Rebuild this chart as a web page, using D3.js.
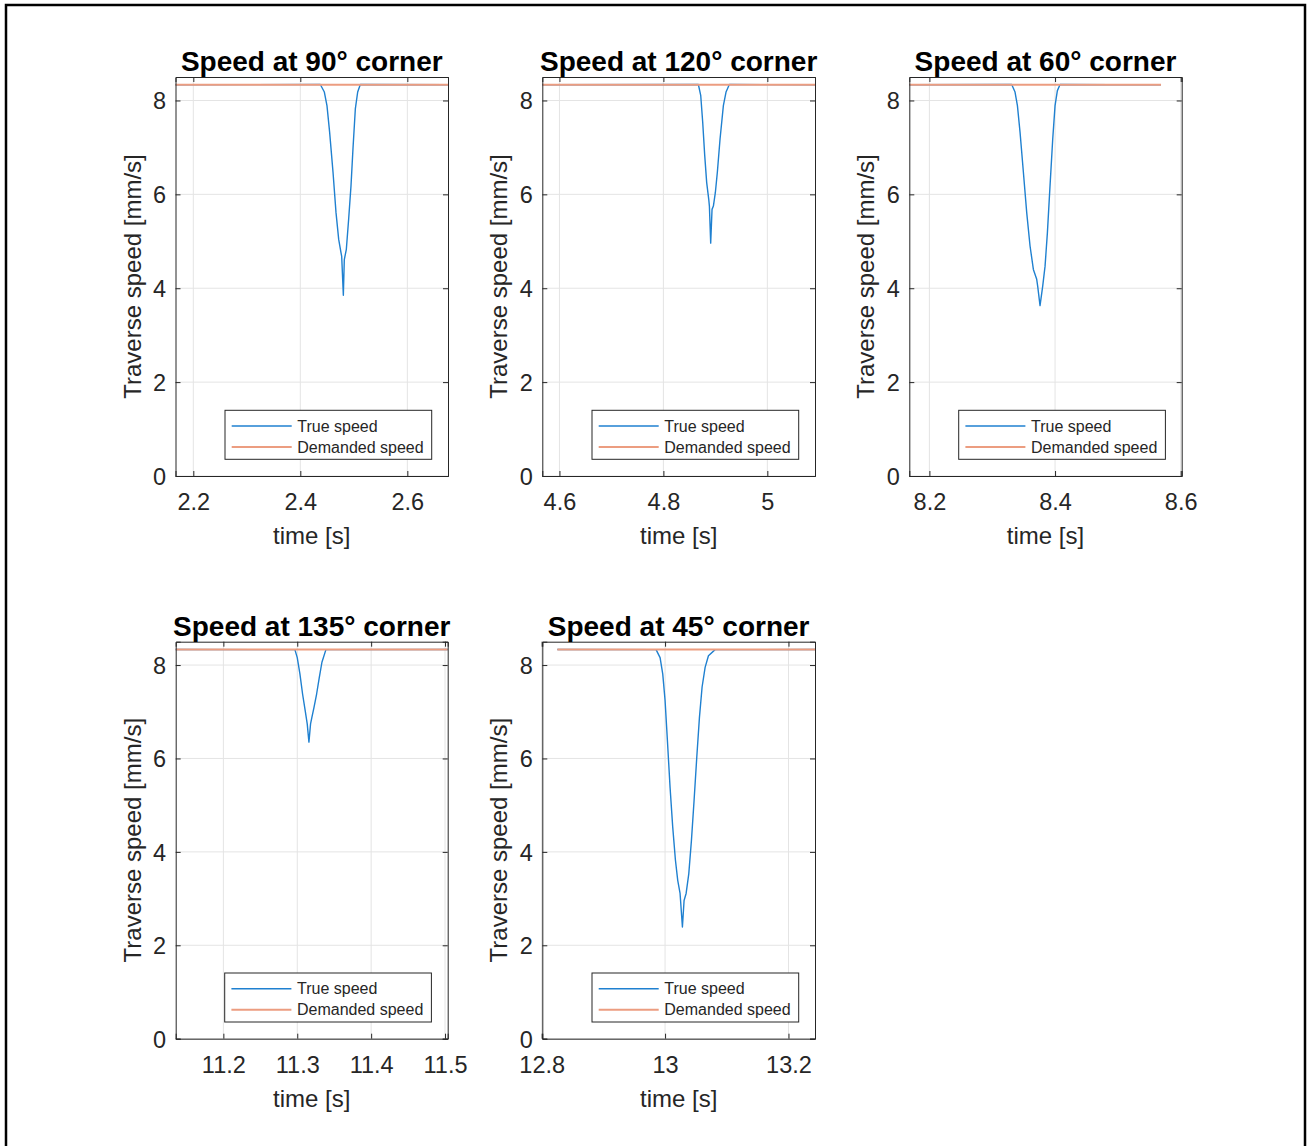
<!DOCTYPE html>
<html>
<head>
<meta charset="utf-8">
<script src="https://cdn.jsdelivr.net/npm/d3@7"></script>
<style>
  html, body { margin: 0; padding: 0; background: #fff; }
  svg { display: block; font-family: "Liberation Sans", Arial, sans-serif; }
</style>
</head>
<body>
<svg id="chart" width="1311" height="1146"></svg>
<script>
// ---------- data ----------
const titles = ["Speed at 90° corner", "Speed at 120° corner", "Speed at 60° corner",
                "Speed at 135° corner", "Speed at 45° corner"];
const xLimits = [[2.1667, 2.676], [4.567, 5.0917], [8.168, 8.6016], [11.1355, 11.5036], [12.801, 13.243]];
const xTickValues = [[2.2, 2.4, 2.6], [4.6, 4.8, 5], [8.2, 8.4, 8.6], [11.2, 11.3, 11.4, 11.5], [12.8, 13, 13.2]];
const yLimits = [0, 8.5];
const yTickValues = [0, 2, 4, 6, 8];
const demandedSpeed = 8.333;
const demandedTimeRange = [[2.15, 2.70], [4.55, 5.11], [8.15, 8.5687], [11.12, 11.52], [12.8254, 13.26]];

const trueTime90  = [2.15, 2.4374, 2.4449, 2.4498, 2.4548, 2.4611, 2.4667, 2.4717, 2.4760, 2.4773, 2.4804,
                     2.4822, 2.4860, 2.4903, 2.4947, 2.4984, 2.5028, 2.5072, 2.5121, 2.70];
const trueSpeed90 = [8.333, 8.34, 8.18, 7.89, 7.32, 6.47, 5.61, 5.04, 4.76, 4.68, 3.85,
                     4.61, 4.83, 5.47, 6.18, 6.97, 7.82, 8.18, 8.34, 8.333];

const trueTime120  = [4.55, 4.8673, 4.8718, 4.8756, 4.8795, 4.8833, 4.8872, 4.8885, 4.8910,
                      4.8936, 4.8962, 4.9000, 4.9038, 4.9090, 4.9154, 4.9205, 4.9269, 5.11];
const trueSpeed120 = [8.333, 8.34, 8.11, 7.54, 6.83, 6.25, 5.90, 5.75, 4.96,
                      5.68, 5.75, 6.04, 6.47, 7.18, 7.89, 8.18, 8.34, 8.333];

const trueTime60  = [8.15, 8.3310, 8.3363, 8.3401, 8.3443, 8.3496, 8.3549, 8.3602, 8.3655, 8.3708, 8.3724, 8.3761,
                     8.3803, 8.3841, 8.3878, 8.3920, 8.3963, 8.4000, 8.4037, 8.4080, 8.5687];
const trueSpeed60 = [8.333, 8.34, 8.18, 7.89, 7.32, 6.47, 5.61, 4.90, 4.40, 4.19, 4.04, 3.63,
                     4.04, 4.47, 5.18, 6.18, 7.18, 7.89, 8.21, 8.34, 8.333];

const trueTime135  = [11.12, 11.2968, 11.3000, 11.3036, 11.3072, 11.3108, 11.3135, 11.3158,
                      11.3180, 11.3198, 11.3226, 11.3262, 11.3298, 11.3334, 11.3388, 11.52];
const trueSpeed135 = [8.333, 8.33, 8.16, 7.81, 7.38, 7.02, 6.74, 6.35,
                      6.74, 6.88, 7.09, 7.38, 7.73, 8.06, 8.33, 8.333];

const trueTime45  = [12.8254, 12.9854, 12.9919, 12.9962, 13.0000, 13.0038, 13.0081, 13.0124, 13.0168, 13.0205, 13.0243, 13.0281,
                     13.0308, 13.0341, 13.0384, 13.0427, 13.0470, 13.0514, 13.0557, 13.0600, 13.0649, 13.0703, 13.0811, 13.26];
const trueSpeed45 = [8.333, 8.33, 8.16, 7.81, 7.24, 6.38, 5.38, 4.53, 3.82, 3.39, 3.11, 2.39,
                     2.96, 3.11, 3.53, 4.24, 5.10, 6.03, 6.88, 7.53, 7.95, 8.20, 8.33, 8.333];

const trueTimes  = [trueTime90, trueTime120, trueTime60, trueTime135, trueTime45];
const trueSpeeds = [trueSpeed90, trueSpeed120, trueSpeed60, trueSpeed135, trueSpeed45];
const legendLabels = ["True speed", "Demanded speed"];
const xLabel = "time [s]";
const yLabel = "Traverse speed [mm/s]";

// ---------- layout / style ----------
const layout = [
  {left: 175.5, top: 77,    width: 272.5, height: 399},
  {left: 542.3, top: 77,    width: 272.7, height: 399},
  {left: 909.3, top: 77,    width: 272.4, height: 399},
  {left: 175.7, top: 641.7, width: 272.0, height: 397},
  {left: 542.3, top: 641.7, width: 272.7, height: 397}
];
const blue = "#1f80d0";
const orange = "#ec9d80";
const axisColor = "#262626";
const gridColor = "#e4e4e4";

const svg = d3.select("#chart");

// outer frame
svg.append("rect").attr("x", 6).attr("y", 5).attr("width", 1299).attr("height", 1160)
  .attr("fill", "none").attr("stroke", "#000").attr("stroke-width", 2.5);

const fmt = v => String(+v.toFixed(4));

layout.forEach((L, i) => {
  const g = svg.append("g").attr("transform", `translate(${L.left},${L.top})`);
  const x = d3.scaleLinear().domain(xLimits[i]).range([0, L.width]);
  const y = d3.scaleLinear().domain(yLimits).range([L.height, 0]);

  g.append("rect").attr("width", L.width).attr("height", L.height).attr("fill", "#fff");

  // grid
  const grid = g.append("g");
  grid.selectAll(".gx").data(xTickValues[i]).join("line")
    .attr("x1", d => x(d)).attr("x2", d => x(d)).attr("y1", 0).attr("y2", L.height)
    .attr("stroke", gridColor).attr("stroke-width", 1);
  grid.selectAll(".gy").data(yTickValues).join("line")
    .attr("class", "gy")
    .attr("y1", d => y(d)).attr("y2", d => y(d)).attr("x1", 0).attr("x2", L.width)
    .attr("stroke", gridColor).attr("stroke-width", 1);

  const clipId = "clip" + i;
  g.append("clipPath").attr("id", clipId).append("rect").attr("width", L.width).attr("height", L.height);
  const plot = g.append("g").attr("clip-path", `url(#${clipId})`);

  const line = d3.line().x(d => x(d[0])).y(d => y(d[1]));
  const trueData = d3.zip(trueTimes[i], trueSpeeds[i]);
  plot.append("path").datum(trueData).attr("d", line)
    .attr("fill", "none").attr("stroke", blue).attr("stroke-width", 1.4).attr("stroke-linejoin", "round");
  const demData = demandedTimeRange[i].map(t => [t, demandedSpeed]);
  plot.append("path").datum(demData).attr("d", line)
    .attr("fill", "none").attr("stroke", orange).attr("stroke-width", 2);

  // axes (ticks inside, box)
  const tickLen = 5;
  const axB = g.append("g").attr("transform", `translate(0,${L.height})`)
    .call(d3.axisBottom(x).tickValues(xTickValues[i]).tickSize(-tickLen).tickPadding(11).tickFormat(fmt));
  const axT = g.append("g")
    .call(d3.axisTop(x).tickValues(xTickValues[i]).tickSize(-tickLen).tickFormat(""));
  const axL = g.append("g")
    .call(d3.axisLeft(y).tickValues(yTickValues).tickSize(-tickLen).tickPadding(14).tickFormat(fmt));
  const axR = g.append("g").attr("transform", `translate(${L.width},0)`)
    .call(d3.axisRight(y).tickValues(yTickValues).tickSize(-tickLen).tickFormat(""));
  [axB, axT, axL, axR].forEach(a => {
    a.select(".domain").attr("stroke", axisColor).attr("stroke-width", 1);
    a.selectAll(".tick line").attr("stroke", axisColor).attr("stroke-width", 1);
    a.selectAll(".tick text").attr("fill", axisColor).style("font-size", "23.5px")
      .style("font-family", '"Liberation Sans", Arial, sans-serif');
  });
  axB.selectAll(".tick text").attr("dy", null).attr("y", 34);
  axL.selectAll(".tick text").attr("x", -9.5).attr("dy", "0.36em");

  // title
  g.append("text").attr("x", L.width / 2).attr("y", -6).attr("text-anchor", "middle")
    .attr("fill", "#000").style("font-size", "28px").style("font-weight", "bold").text(titles[i]);

  // axis labels
  g.append("text").attr("x", L.width / 2).attr("y", L.height + 68).attr("text-anchor", "middle")
    .attr("fill", axisColor).style("font-size", "24px").text(xLabel);
  g.append("text").attr("transform", `translate(-35,${L.height / 2}) rotate(-90)`)
    .attr("text-anchor", "middle").attr("fill", axisColor).style("font-size", "24px").text(yLabel);

  // legend
  const lw = 206.7, lh = 49;
  const lg = g.append("g").attr("transform", `translate(${L.width - 16.3 - lw},${L.height - 16.7 - lh})`);
  lg.append("rect").attr("width", lw).attr("height", lh).attr("fill", "#fff")
    .attr("stroke", axisColor).attr("stroke-width", 1);
  const legendColors = [blue, orange];
  const legendWidths = [1.4, 2];
  legendLabels.forEach((lab, k) => {
    const cy = 15.7 + k * 21;
    lg.append("line").attr("x1", 6.7).attr("x2", 66.7).attr("y1", cy).attr("y2", cy)
      .attr("stroke", legendColors[k]).attr("stroke-width", legendWidths[k]);
    lg.append("text").attr("x", 72.3).attr("y", cy).attr("dy", "0.36em")
      .attr("fill", axisColor).style("font-size", "16px").text(lab);
  });
});
</script>
</body>
</html>
